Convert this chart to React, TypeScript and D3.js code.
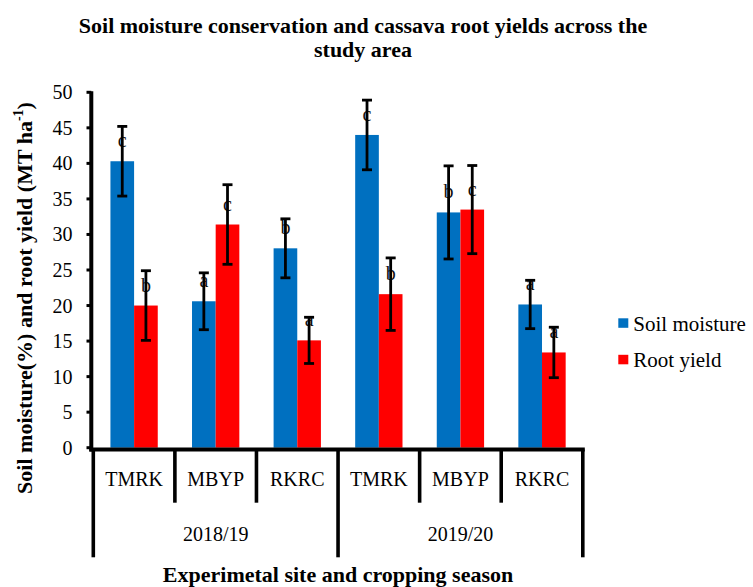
import React from "react";
import * as d3 from "d3";

const sites = ["TMRK", "MBYP", "RKRC", "TMRK", "MBYP", "RKRC"];
const seasons = ["2018/19", "2019/20"];
const seasonOf = [0, 0, 0, 1, 1, 1];
const seriesNames = ["Soil moisture", "Root yield"];
const soilMoisture = [40.3, 20.6, 28.05, 44.0, 33.1, 20.15];
const soilErr = [4.9, 4.0, 4.15, 4.9, 6.55, 3.4];
const soilLetters = ["c", "a", "b", "c", "b", "a"];
const rootYield = [20.0, 31.4, 15.1, 21.6, 33.5, 13.4];
const rootErr = [4.9, 5.6, 3.25, 5.1, 6.2, 3.55];
const rootLetters = ["b", "c", "a", "b", "c", "a"];
const yTicks = [0, 5, 10, 15, 20, 25, 30, 35, 40, 45, 50];
const colors = ["#0070C0", "#FF0000"];

const FONT = "Liberation Serif";
const ts = { fontFamily: FONT };

export default function App() {
  const W = 753, H = 587;
  const left = 93.3, right = 582.8, top = 92.3, bottom = 447.7;
  const keys = sites.map((s, i) => `${i}-${s}`);
  const x = d3.scaleBand<string>().domain(keys).range([left, right]).padding(0);
  const bw = x.bandwidth();
  const xi = d3.scaleBand<string>().domain(seriesNames).range([bw * 0.21, bw * 0.79]).padding(0);
  const y = d3.scaleLinear().domain([0, 50]).range([bottom, top]);

  const series = [
    { name: seriesNames[0], vals: soilMoisture, err: soilErr, letters: soilLetters, color: colors[0] },
    { name: seriesNames[1], vals: rootYield, err: rootErr, letters: rootLetters, color: colors[1] },
  ];

  const axisY = 449.5;
  const boundaries = d3.range(keys.length + 1).map((i) => (i < keys.length ? (x(keys[i]) as number) : right));

  return (
    <svg width={W} height={H} style={{ position: "absolute", left: 0, top: 0, background: "#fff", fontFamily: FONT }}>
      <rect x={0} y={0} width={W} height={H} fill="#fff" />
      {/* Title */}
      <text x={363} y={33} textAnchor="middle" fontSize={22} fontWeight="bold" style={ts}>
        Soil moisture conservation and cassava root yields across the
      </text>
      <text x={363} y={57} textAnchor="middle" fontSize={22} fontWeight="bold" style={ts}>
        study area
      </text>

      {/* Bars */}
      {series.map((s) =>
        s.vals.map((v, i) => {
          const bx = (x(keys[i]) as number) + (xi(s.name) as number);
          return (
            <rect key={s.name + i} x={bx} y={y(v)} width={xi.bandwidth()} height={bottom - y(v)} fill={s.color} />
          );
        })
      )}

      {/* Letters */}
      {series.map((s) =>
        s.vals.map((v, i) => {
          const cx = (x(keys[i]) as number) + (xi(s.name) as number) + xi.bandwidth() / 2;
          return (
            <text key={"l" + s.name + i} x={cx} y={y(v) - 14} textAnchor="middle" fontSize={20} fill="#111" style={ts}>
              {s.letters[i]}
            </text>
          );
        })
      )}

      {/* Error bars */}
      {series.map((s) =>
        s.vals.map((v, i) => {
          const cx = (x(keys[i]) as number) + (xi(s.name) as number) + xi.bandwidth() / 2;
          const y1 = y(v + s.err[i]);
          const y2 = y(v - s.err[i]);
          return (
            <g key={"e" + s.name + i} stroke="#000" strokeWidth={2.8}>
              <line x1={cx} x2={cx} y1={y1} y2={y2} />
              <line x1={cx - 5} x2={cx + 5} y1={y1} y2={y1} />
              <line x1={cx - 5} x2={cx + 5} y1={y2} y2={y2} />
            </g>
          );
        })
      )}

      {/* Y axis */}
      <line x1={91.3} x2={91.3} y1={top - 1} y2={axisY + 2} stroke="#000" strokeWidth={4} />
      {yTicks.map((t) => (
        <g key={"t" + t}>
          <line x1={86.5} x2={91.3} y1={y(t)} y2={y(t)} stroke="#000" strokeWidth={3} />
          <text x={72.5} y={y(t) + 7} textAnchor="end" fontSize={20} style={ts}>
            {t}
          </text>
        </g>
      ))}

      {/* X axis */}
      <line x1={89.3} x2={right + 2} y1={axisY} y2={axisY} stroke="#000" strokeWidth={4} />
      {boundaries.map((bx, i) => {
        const isSeason = i % 3 === 0;
        return (
          <line key={"b" + i} x1={bx} x2={bx} y1={axisY} y2={isSeason ? 557.3 : 502.7} stroke="#000" strokeWidth={3.6} />
        );
      })}
      {keys.map((k, i) => (
        <text key={"c" + k} x={(x(k) as number) + bw / 2} y={485.7} textAnchor="middle" fontSize={20} style={ts}>
          {sites[i]}
        </text>
      ))}
      {seasons.map((s, si) => {
        const idx = seasonOf.map((v, i) => (v === si ? i : -1)).filter((i) => i >= 0);
        const x0 = x(keys[idx[0]]) as number;
        const x1 = (x(keys[idx[idx.length - 1]]) as number) + bw;
        return (
          <text key={"s" + s} x={(x0 + x1) / 2} y={540.7} textAnchor="middle" fontSize={20} style={ts}>
            {s}
          </text>
        );
      })}

      {/* Axis titles */}
      <text x={(left + right) / 2} y={582} textAnchor="middle" fontSize={22} fontWeight="bold" style={ts}>
        Experimetal site and cropping season
      </text>
      <text transform="translate(31.5,298) rotate(-90)" textAnchor="middle" fontSize={22} fontWeight="bold" style={ts}>
        Soil moisture(%) and root yield (MT ha<tspan fontSize={14} dy={-9}>-1</tspan>
        <tspan dy={9}>)</tspan>
      </text>

      {/* Legend */}
      {series.map((s, i) => (
        <g key={"lg" + i}>
          <rect x={618.3} y={318.3 + i * 36.5} width={10} height={9.5} fill={s.color} />
          <text x={633.3} y={330.7 + i * 36} fontSize={21} style={ts}>
            {s.name}
          </text>
        </g>
      ))}
    </svg>
  );
}
